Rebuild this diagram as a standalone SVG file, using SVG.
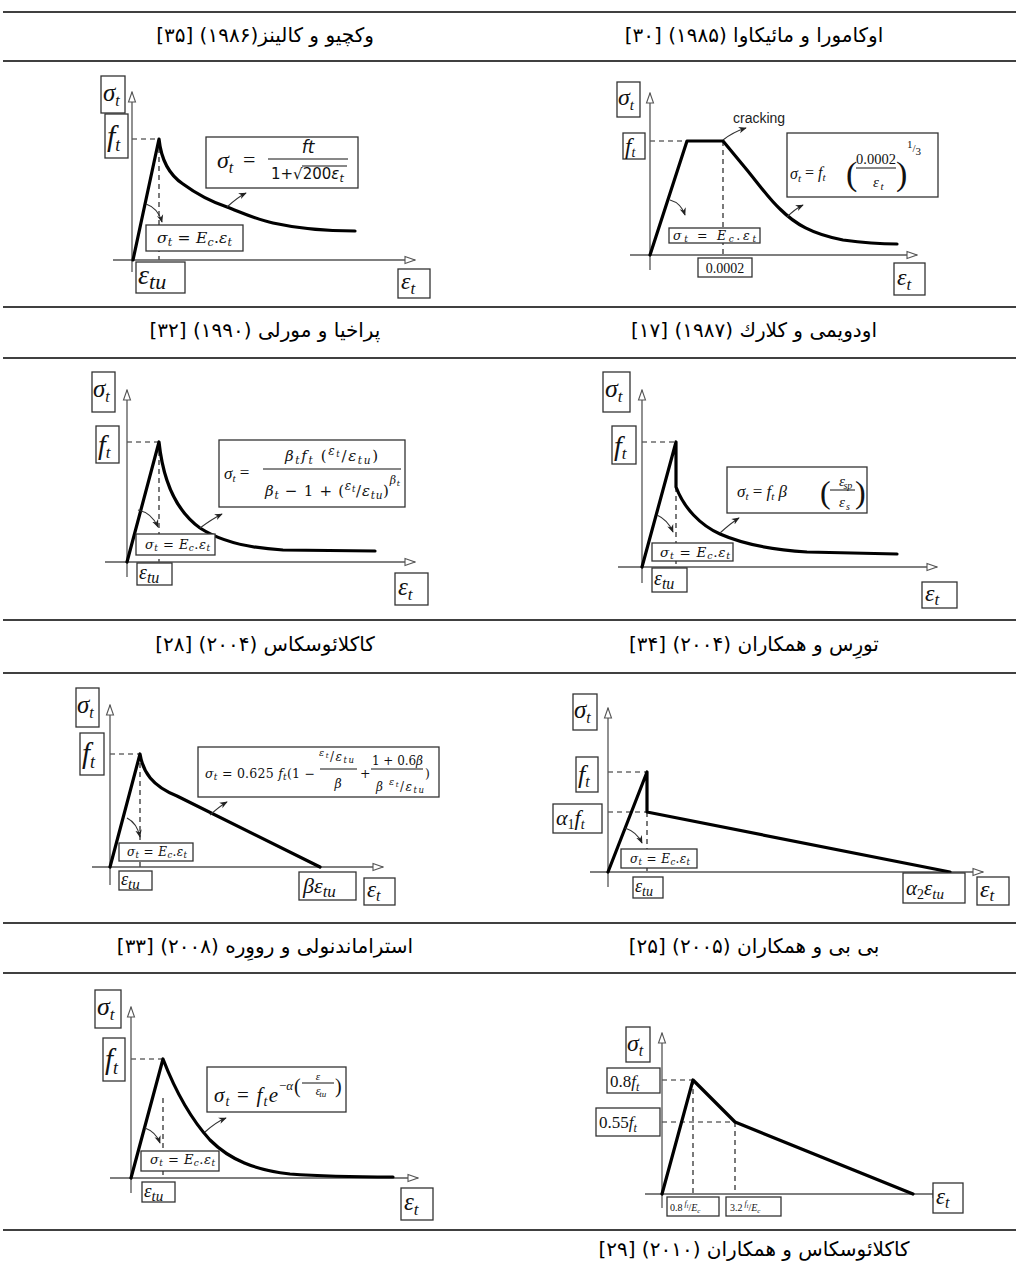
<svg xmlns="http://www.w3.org/2000/svg" width="1019" height="1275" viewBox="0 0 1019 1275">
<defs>
<marker id="ah" viewBox="0 0 12 10" refX="11" refY="5" markerWidth="12" markerHeight="10" markerUnits="userSpaceOnUse" orient="auto"><path d="M1,1.5 L11,5 L1,8.5 Z" fill="#fff" stroke="#555" stroke-width="1.1"/></marker>
<marker id="pa" viewBox="0 0 10 10" refX="9" refY="5" markerWidth="8" markerHeight="8" markerUnits="userSpaceOnUse" orient="auto"><path d="M0,1 L10,5 L0,9 L3,5 Z" fill="#222"/></marker>
</defs>
<style>
.rule{stroke:#000;stroke-width:1.6}
.ax{stroke:#555;stroke-width:1.3;fill:none;marker-end:url(#ah)}
.crv{stroke:#000;stroke-width:3.2;fill:none;stroke-linejoin:round;stroke-linecap:round}
.dash{stroke:#222;stroke-width:1.2;stroke-dasharray:5 4;fill:none}
.box{fill:#fff;stroke:#333;stroke-width:1.3}
.ptr{stroke:#333;stroke-width:1.1;fill:none;marker-end:url(#pa)}
.mi{font-family:"Liberation Serif",serif;font-style:italic;fill:#111}
.mu{font-family:"Liberation Serif",serif;fill:#111}
.fm{font-family:"DejaVu Serif",serif;font-style:italic;fill:#111}
.fmu{font-family:"DejaVu Serif",serif;fill:#111}
.ds{font-family:"DejaVu Sans",sans-serif;fill:#111}
.n{font-style:normal}
.fa{font-family:"DejaVu Sans",sans-serif;font-size:20px;fill:#000}
.ls{font-family:"Liberation Sans",sans-serif;fill:#222}
.fb{stroke:#111;stroke-width:1}
</style>
<rect width="1019" height="1275" fill="#fff"/>

<g id="table-rules">
<line class="rule" x1="3" y1="12" x2="1016" y2="12"/>
<line class="rule" x1="3" y1="61" x2="1016" y2="61"/>
<line class="rule" x1="3" y1="307" x2="1016" y2="307"/>
<line class="rule" x1="3" y1="358" x2="1016" y2="358"/>
<line class="rule" x1="3" y1="620" x2="1016" y2="620"/>
<line class="rule" x1="3" y1="673" x2="1016" y2="673"/>
<line class="rule" x1="3" y1="923" x2="1016" y2="923"/>
<line class="rule" x1="3" y1="973" x2="1016" y2="973"/>
<line class="rule" x1="3" y1="1230" x2="1016" y2="1230"/>
</g>

<g id="captions">
<text class="fa" x="265" y="42" text-anchor="middle" direction="rtl">وکچیو و کالینز(۱۹۸۶) [۳۵]</text>
<text class="fa" x="754" y="42" text-anchor="middle" direction="rtl">اوکامورا و مائیکاوا (۱۹۸۵) [۳۰]</text>
<text class="fa" x="265" y="337" text-anchor="middle" direction="rtl">پراخیا و مورلی (۱۹۹۰) [۳۲]</text>
<text class="fa" x="754" y="337" text-anchor="middle" direction="rtl">اودویمی و کلارك (۱۹۸۷) [۱۷]</text>
<text class="fa" x="265" y="651" text-anchor="middle" direction="rtl">کاکلائوسکاس (۲۰۰۴) [۲۸]</text>
<text class="fa" x="754" y="651" text-anchor="middle" direction="rtl">تورِس و همکاران (۲۰۰۴) [۳۴]</text>
<text class="fa" x="265" y="953" text-anchor="middle" direction="rtl">استراماندنولی و رووِره (۲۰۰۸) [۳۳]</text>
<text class="fa" x="754" y="953" text-anchor="middle" direction="rtl">بی بی و همکاران (۲۰۰۵) [۲۵]</text>
<text class="fa" x="754" y="1256" text-anchor="middle" direction="rtl">کاکلائوسکاس و همکاران (۲۰۱۰) [۲۹]</text>
</g>

<!-- Graph 1: Vecchio & Collins -->
<g id="g1">
<path class="dash" d="M132,139 H159 M159,139 V260"/>
<path class="ax" d="M132,272 L132,92"/>
<path class="ax" d="M113,260 L415,260"/>
<path class="crv" d="M133,260 L159,139 C161,158 168,174 183,184 C198,195 212,202 227,207 C245,214 258,220 273,223 C300,229 330,231 355,231"/>
<path class="ptr" d="M227,207 Q238,197 246,193"/>
<path class="ptr" d="M146,204 Q158,208 162,222"/>
<rect class="box" x="206" y="137" width="152" height="51"/>
<text class="mi" x="217" y="168" font-size="24">σ<tspan font-size="16" y="173">t</tspan></text>
<text class="mu" x="243" y="167" font-size="22">=</text>
<line class="fb" x1="268" y1="159" x2="348" y2="159"/>
<text class="ds" x="308" y="153" font-size="17" font-style="italic" text-anchor="middle">ft</text>
<text class="ds" x="271" y="179" font-size="15">1+√200<tspan font-style="italic">ε</tspan><tspan font-style="italic" font-size="11" y="182">t</tspan></text>
<line class="fb" x1="302" y1="166" x2="347" y2="166"/>
<rect class="box" x="146" y="225" width="97" height="26"/>
<text class="fm" x="157" y="243" font-size="15.5" textLength="75" lengthAdjust="spacing">σ<tspan font-size="11" y="246">t</tspan><tspan class="n" y="243"> = </tspan><tspan y="243">E</tspan><tspan font-size="11" y="246">c</tspan><tspan class="n" y="243">.</tspan><tspan y="243">ε</tspan><tspan font-size="11" y="246">t</tspan></text>
<rect class="box" x="101" y="76" width="24" height="37"/>
<text class="mi" x="103" y="101" font-size="25">σ<tspan font-size="16" y="106">t</tspan></text>
<rect class="box" x="105" y="114" width="23" height="44"/>
<text class="mi" x="107" y="146" font-size="30">f<tspan font-size="18" y="151">t</tspan></text>
<rect class="box" x="136" y="262" width="49" height="31"/>
<text class="mi" x="138" y="284" font-size="28">ε<tspan font-size="22" y="289">tu</tspan></text>
<rect class="box" x="398" y="269" width="32" height="29"/>
<text class="mi" x="401" y="289" font-size="24">ε<tspan font-size="17" y="294">t</tspan></text>
</g>

<!-- Graph 2: Okamura & Maekawa -->
<g id="g2">
<path class="dash" d="M650,141 H687 M723,141 V257"/>
<path class="ax" d="M650,270 L650,93"/>
<path class="ax" d="M630,255 L917,255"/>
<path class="crv" d="M650,255 L687,141 L723,141 L747,170 C760,186 770,200 780,209 C795,224 812,234 843,240 C865,243 880,244 897,244"/>
<text class="ls" x="733" y="123" font-size="14">cracking</text>
<path class="ptr" d="M723,140 Q733,132 746,128"/>
<path class="ptr" d="M787,217 Q795,209 803,205"/>
<path class="ptr" d="M670,200 Q681,203 685,215"/>
<rect class="box" x="787" y="133" width="151" height="64"/>
<text class="mi" x="790" y="179" font-size="16">σ<tspan font-size="11" y="182">t</tspan><tspan class="n" y="178"> = </tspan><tspan y="178">f</tspan><tspan font-size="11" y="181">t</tspan></text>
<text class="mu" x="846" y="185" font-size="34">(</text>
<line class="fb" x1="856" y1="168" x2="896" y2="168"/>
<text class="mu" x="876" y="164" font-size="14.5" text-anchor="middle">0.0002</text>
<text class="mi" x="876" y="187" font-size="15" text-anchor="middle">ε<tspan font-size="11" y="190">t</tspan></text>
<text class="mu" x="896" y="185" font-size="34">)</text>
<text class="mu" x="907" y="152" font-size="11"><tspan y="148">1</tspan><tspan y="152">/</tspan><tspan y="155">3</tspan></text>
<rect class="box" x="669" y="228" width="91" height="15"/>
<text class="fm" x="673" y="240" font-size="12.5" textLength="83" lengthAdjust="spacing">σ<tspan font-size="9" y="242">t</tspan><tspan class="n" y="240"> = </tspan><tspan y="240">E</tspan><tspan font-size="9" y="242">c</tspan><tspan class="n" y="240">.</tspan><tspan y="240">ε</tspan><tspan font-size="9" y="242">t</tspan></text>
<rect class="box" x="698" y="258" width="54" height="19"/>
<text class="mu" x="725" y="273" font-size="14" text-anchor="middle">0.0002</text>
<rect class="box" x="617" y="82" width="23" height="35"/>
<text class="mi" x="618" y="105" font-size="24">σ<tspan font-size="15" y="110">t</tspan></text>
<rect class="box" x="623" y="133" width="22" height="26"/>
<text class="mi" x="625" y="154" font-size="23">f<tspan font-size="14" y="157">t</tspan></text>
<rect class="box" x="894" y="263" width="31" height="32"/>
<text class="mi" x="897" y="285" font-size="24">ε<tspan font-size="17" y="290">t</tspan></text>
</g>

<!-- Graph 3: Prakhya & Morley -->
<g id="g3">
<path class="dash" d="M127,442 H159 M159,442 V562"/>
<path class="ax" d="M127,577 L127,390"/>
<path class="ax" d="M105,562 L415,562"/>
<path class="crv" d="M127,562 L159,442 C163,480 175,510 200,528 C220,541 245,548 283,550 L375,551"/>
<path class="ptr" d="M200,528 Q212,519 222,514"/>
<path class="ptr" d="M138,510 Q152,513 158,527"/>
<rect class="box" x="219" y="440" width="186" height="67"/>
<text class="mi" x="224" y="479" font-size="17">σ<tspan font-size="11" y="482">t</tspan><tspan class="n" y="478"> =</tspan></text>
<line class="fb" x1="263" y1="469" x2="401" y2="469"/>
<text class="fm" x="285" y="461" font-size="15" textLength="93" lengthAdjust="spacing">β<tspan font-size="10.5" y="464">t</tspan><tspan y="461">f</tspan><tspan font-size="10.5" y="464">t</tspan><tspan class="n" y="461">  (</tspan><tspan font-size="12" y="455">ε</tspan><tspan font-size="8.5" y="457">t</tspan><tspan class="n" y="461">/</tspan><tspan y="461">ε</tspan><tspan font-size="10.5" y="464">tu</tspan><tspan class="n" y="461">)</tspan></text>
<text class="fm" x="265" y="496" font-size="15" textLength="135" lengthAdjust="spacing">β<tspan font-size="10.5" y="499">t</tspan><tspan class="n" y="496"> − 1 + (</tspan><tspan font-size="12" y="490">ε</tspan><tspan font-size="8.5" y="492">t</tspan><tspan class="n" y="496">/</tspan><tspan y="496">ε</tspan><tspan font-size="10.5" y="499">tu</tspan><tspan class="n" y="496">)</tspan><tspan font-size="11" y="484">β</tspan><tspan font-size="8" y="486">t</tspan></text>
<rect class="box" x="136" y="534" width="79" height="21"/>
<text class="fm" x="145" y="549" font-size="13" fill="#444" textLength="65" lengthAdjust="spacing">σ<tspan font-size="9" y="551">t</tspan><tspan class="n" y="549"> = </tspan><tspan y="549">E</tspan><tspan font-size="9" y="551">c</tspan><tspan class="n" y="549">.</tspan><tspan y="549">ε</tspan><tspan font-size="9" y="551">t</tspan></text>
<rect class="box" x="92" y="372" width="23" height="40"/>
<text class="mi" x="93" y="397" font-size="25">σ<tspan font-size="16" y="402">t</tspan></text>
<rect class="box" x="96" y="426" width="23" height="37"/>
<text class="mi" x="98" y="454" font-size="28">f<tspan font-size="17" y="458">t</tspan></text>
<rect class="box" x="137" y="563" width="35" height="22"/>
<text class="mi" x="139" y="579" font-size="20">ε<tspan font-size="16" y="583">tu</tspan></text>
<rect class="box" x="395" y="573" width="33" height="32"/>
<text class="mi" x="398" y="595" font-size="25">ε<tspan font-size="17" y="600">t</tspan></text>
</g>

<!-- Graph 4: Oduyemi & Clark -->
<g id="g4">
<path class="dash" d="M642,442 H676 M676,487 V567"/>
<path class="ax" d="M642,583 L642,390"/>
<path class="ax" d="M618,567 L937,567"/>
<path class="crv" d="M642,567 L676,442 L676,487 C684,508 700,525 720,534 C745,545 775,550 807,552 L897,554"/>
<path class="ptr" d="M720,533 Q731,523 739,518"/>
<path class="ptr" d="M657,515 Q668,520 673,532"/>
<rect class="box" x="727" y="467" width="140" height="46"/>
<text class="mi" x="737" y="497" font-size="17">σ<tspan font-size="11" y="500">t</tspan><tspan class="n" y="497"> = </tspan><tspan y="497">f</tspan><tspan font-size="11" y="500">t</tspan><tspan y="497"> β</tspan></text>
<text class="mu" x="820" y="503" font-size="32">(</text>
<line class="fb" x1="830" y1="490" x2="855" y2="490"/>
<text class="mi" x="842" y="486" font-size="15" text-anchor="middle">ε<tspan font-size="10" y="489">sp</tspan></text>
<text class="mi" x="842" y="507" font-size="15" text-anchor="middle">ε<tspan font-size="10" y="510">s</tspan></text>
<text class="mu" x="855" y="503" font-size="32">)</text>
<rect class="box" x="652" y="543" width="81" height="18"/>
<text class="fm" x="660" y="557" font-size="13.5" fill="#333" textLength="70" lengthAdjust="spacing">σ<tspan font-size="9.5" y="559">t</tspan><tspan class="n" y="557"> = </tspan><tspan y="557">E</tspan><tspan font-size="9.5" y="559">c</tspan><tspan class="n" y="557">.</tspan><tspan y="557">ε</tspan><tspan font-size="9.5" y="559">t</tspan></text>
<rect class="box" x="603" y="372" width="27" height="40"/>
<text class="mi" x="605" y="397" font-size="26">σ<tspan font-size="17" y="402">t</tspan></text>
<rect class="box" x="612" y="426" width="24" height="38"/>
<text class="mi" x="614" y="455" font-size="28">f<tspan font-size="17" y="459">t</tspan></text>
<rect class="box" x="652" y="568" width="35" height="24"/>
<text class="mi" x="654" y="585" font-size="20">ε<tspan font-size="16" y="589">tu</tspan></text>
<rect class="box" x="922" y="582" width="35" height="26"/>
<text class="mi" x="925" y="601" font-size="24">ε<tspan font-size="17" y="605">t</tspan></text>
</g>

<!-- Graph 5: Kaklauskas 2004 -->
<g id="g5">
<path class="dash" d="M110,754 H140 M140,754 V867"/>
<path class="ax" d="M110,885 L110,705"/>
<path class="ax" d="M92,867 L383,867"/>
<path class="crv" d="M110,867 L140,754 C143,772 152,786 177,796 L320,867"/>
<path class="ptr" d="M210,815 Q220,806 227,802"/>
<path class="ptr" d="M127,818 Q137,823 140,837"/>
<rect class="box" x="198" y="747" width="241" height="50"/>
<text class="fm" x="205" y="778" font-size="12.5" textLength="110" lengthAdjust="spacing">σ<tspan font-size="9" y="780">t</tspan><tspan class="n" y="778"> = 0.625 </tspan><tspan y="778">f</tspan><tspan font-size="9" y="780">t</tspan><tspan class="n" y="778">(1 −</tspan></text>
<text class="fm" x="319" y="761" font-size="12" textLength="35" lengthAdjust="spacing"><tspan font-size="9.5" y="756">ε</tspan><tspan font-size="7" y="758">t</tspan><tspan class="n" y="761">/</tspan><tspan y="761">ε</tspan><tspan font-size="8.5" y="763">tu</tspan></text>
<line class="fb" x1="320" y1="769" x2="357" y2="769"/>
<text class="fm" x="338" y="788" font-size="12.5" text-anchor="middle">β</text>
<text class="fmu" x="360" y="778" font-size="12.5">+</text>
<text class="fm" x="372" y="765" font-size="12" textLength="51" lengthAdjust="spacing"><tspan class="n">1 + 0.6</tspan>β</text>
<line class="fb" x1="371" y1="769" x2="423" y2="769"/>
<text class="fm" x="376" y="791" font-size="12" textLength="48" lengthAdjust="spacing">β<tspan font-size="9.5" y="785"> ε</tspan><tspan font-size="7" y="787">t</tspan><tspan class="n" y="791">/</tspan><tspan y="791">ε</tspan><tspan font-size="8.5" y="793">tu</tspan></text>
<text class="fmu" x="425" y="778" font-size="12.5">)</text>
<rect class="box" x="119" y="843" width="74" height="18"/>
<text class="fm" x="127" y="856" font-size="12" fill="#333" textLength="60" lengthAdjust="spacing">σ<tspan font-size="8.5" y="858">t</tspan><tspan class="n" y="856"> = </tspan><tspan y="856">E</tspan><tspan font-size="8.5" y="858">c</tspan><tspan class="n" y="856">.</tspan><tspan y="856">ε</tspan><tspan font-size="8.5" y="858">t</tspan></text>
<rect class="box" x="76" y="688" width="23" height="39"/>
<text class="mi" x="77" y="713" font-size="25">σ<tspan font-size="16" y="718">t</tspan></text>
<rect class="box" x="80" y="733" width="24" height="42"/>
<text class="mi" x="82" y="763" font-size="29">f<tspan font-size="18" y="768">t</tspan></text>
<rect class="box" x="119" y="871" width="33" height="19"/>
<text class="mi" x="121" y="885" font-size="18">ε<tspan font-size="15" y="889">tu</tspan></text>
<rect class="box" x="299" y="872" width="57" height="28"/>
<text class="mi" x="303" y="893" font-size="22">βε<tspan font-size="17" y="897">tu</tspan></text>
<rect class="box" x="364" y="878" width="31" height="27"/>
<text class="mi" x="367" y="897" font-size="23">ε<tspan font-size="16" y="901">t</tspan></text>
</g>

<!-- Graph 6: Torres et al. -->
<g id="g6">
<path class="dash" d="M608,772 H647 M608,812 H647 M647,812 V872"/>
<path class="ax" d="M608,887 L608,708"/>
<path class="ax" d="M590,872 L983,872"/>
<path class="crv" d="M608,872 L647,772 L647,812 L950,872"/>
<path class="ptr" d="M625,828 Q637,832 642,843"/>
<rect class="box" x="621" y="849" width="76" height="19"/>
<text class="fm" x="630" y="863" font-size="12" fill="#333" textLength="60" lengthAdjust="spacing">σ<tspan font-size="8.5" y="865">t</tspan><tspan class="n" y="863"> = </tspan><tspan y="863">E</tspan><tspan font-size="8.5" y="865">c</tspan><tspan class="n" y="863">.</tspan><tspan y="863">ε</tspan><tspan font-size="8.5" y="865">t</tspan></text>
<rect class="box" x="573" y="694" width="24" height="36"/>
<text class="mi" x="574" y="718" font-size="25">σ<tspan font-size="16" y="723">t</tspan></text>
<rect class="box" x="576" y="757" width="22" height="35"/>
<text class="mi" x="578" y="783" font-size="26">f<tspan font-size="16" y="787">t</tspan></text>
<rect class="box" x="553" y="804" width="49" height="29"/>
<text class="mi" x="556" y="825" font-size="22">α<tspan class="n" font-size="14" y="829">1</tspan><tspan y="825">f</tspan><tspan font-size="14" y="829">t</tspan></text>
<rect class="box" x="633" y="877" width="30" height="21"/>
<text class="mi" x="635" y="892" font-size="18">ε<tspan font-size="14" y="896">tu</tspan></text>
<rect class="box" x="903" y="873" width="62" height="30"/>
<text class="mi" x="906" y="895" font-size="21">α<tspan class="n" font-size="14" y="899">2</tspan><tspan y="895">ε</tspan><tspan font-size="15" y="899">tu</tspan></text>
<rect class="box" x="977" y="877" width="32" height="28"/>
<text class="mi" x="980" y="897" font-size="24">ε<tspan font-size="17" y="901">t</tspan></text>
</g>

<!-- Graph 7: Stramandinoli & Rovere -->
<g id="g7">
<path class="dash" d="M131,1059 H163 M163,1098 V1178"/>
<path class="ax" d="M131,1193 L131,1007"/>
<path class="ax" d="M110,1178 L418,1178"/>
<path class="crv" d="M131,1178 L163,1059 C175,1090 190,1118 210,1140 C230,1160 255,1170 290,1174 C330,1177 360,1177 393,1177"/>
<path class="ptr" d="M205,1132 Q216,1122 226,1118"/>
<path class="ptr" d="M145,1128 Q156,1132 160,1143"/>
<rect class="box" x="207" y="1067" width="139" height="45"/>
<text class="mi" x="214" y="1102" font-size="21" textLength="64" lengthAdjust="spacing">σ<tspan font-size="14" y="1106">t</tspan><tspan class="n" y="1102"> = </tspan><tspan y="1102">f</tspan><tspan font-size="14" y="1106">t</tspan><tspan y="1102">e</tspan></text>
<text class="mi" x="279" y="1090" font-size="13"><tspan class="n">−</tspan>α</text>
<text class="mu" x="294" y="1093" font-size="20">(</text>
<text class="mi" x="318" y="1080" font-size="11" text-anchor="middle">ε</text>
<line class="fb" x1="302" y1="1083" x2="334" y2="1083"/>
<text class="mi" x="318" y="1095" font-size="12" text-anchor="middle">ε<tspan font-size="9" y="1097">tu</tspan></text>
<text class="mu" x="335" y="1093" font-size="20">)</text>
<rect class="box" x="141" y="1151" width="78" height="20"/>
<text class="fm" x="150" y="1164" font-size="13" fill="#333" textLength="65" lengthAdjust="spacing">σ<tspan font-size="9" y="1166">t</tspan><tspan class="n" y="1164"> = </tspan><tspan y="1164">E</tspan><tspan font-size="9" y="1166">c</tspan><tspan class="n" y="1164">.</tspan><tspan y="1164">ε</tspan><tspan font-size="9" y="1166">t</tspan></text>
<rect class="box" x="95" y="990" width="26" height="38"/>
<text class="mi" x="97" y="1015" font-size="26">σ<tspan font-size="17" y="1020">t</tspan></text>
<rect class="box" x="103" y="1038" width="22" height="43"/>
<text class="mi" x="105" y="1069" font-size="29">f<tspan font-size="18" y="1074">t</tspan></text>
<rect class="box" x="142" y="1182" width="33" height="20"/>
<text class="mi" x="144" y="1197" font-size="19">ε<tspan font-size="15" y="1201">tu</tspan></text>
<rect class="box" x="401" y="1188" width="32" height="32"/>
<text class="mi" x="404" y="1210" font-size="25">ε<tspan font-size="17" y="1215">t</tspan></text>
</g>

<!-- Graph 8: Kaklauskas et al. 2010 -->
<g id="g8">
<path class="dash" d="M662,1080 H693 M662,1122 H735 M693,1080 V1194 M735,1122 V1194"/>
<path class="ax" d="M662,1208 L662,1033"/>
<path class="ax" d="M645,1194 L943,1194"/>
<path class="crv" d="M662,1194 L693,1080 L735,1122 L913,1194"/>
<rect class="box" x="626" y="1027" width="24" height="35"/>
<text class="mi" x="627" y="1051" font-size="24">σ<tspan font-size="16" y="1056">t</tspan></text>
<rect class="box" x="607" y="1068" width="53" height="25"/>
<text class="mi" x="610" y="1087" font-size="17"><tspan class="n">0.8</tspan>f<tspan font-size="12" y="1091">t</tspan></text>
<rect class="box" x="596" y="1108" width="64" height="28"/>
<text class="mi" x="599" y="1128" font-size="17"><tspan class="n">0.55</tspan>f<tspan font-size="12" y="1132">t</tspan></text>
<rect class="box" x="667" y="1197" width="52" height="19"/>
<text class="mi" x="670" y="1211" font-size="10"><tspan class="n">0.8</tspan><tspan font-size="8" y="1206"> f</tspan><tspan font-size="6" y="1208">t</tspan><tspan class="n" y="1211">/</tspan><tspan y="1211">E</tspan><tspan font-size="7" y="1213">c</tspan></text>
<rect class="box" x="726" y="1197" width="55" height="19"/>
<text class="mi" x="730" y="1211" font-size="10"><tspan class="n">3.2</tspan><tspan font-size="8" y="1206"> f</tspan><tspan font-size="6" y="1208">t</tspan><tspan class="n" y="1211">/</tspan><tspan y="1211">E</tspan><tspan font-size="7" y="1213">c</tspan></text>
<rect class="box" x="933" y="1183" width="30" height="30"/>
<text class="mi" x="936" y="1204" font-size="23">ε<tspan font-size="16" y="1208">t</tspan></text>
</g>
</svg>
